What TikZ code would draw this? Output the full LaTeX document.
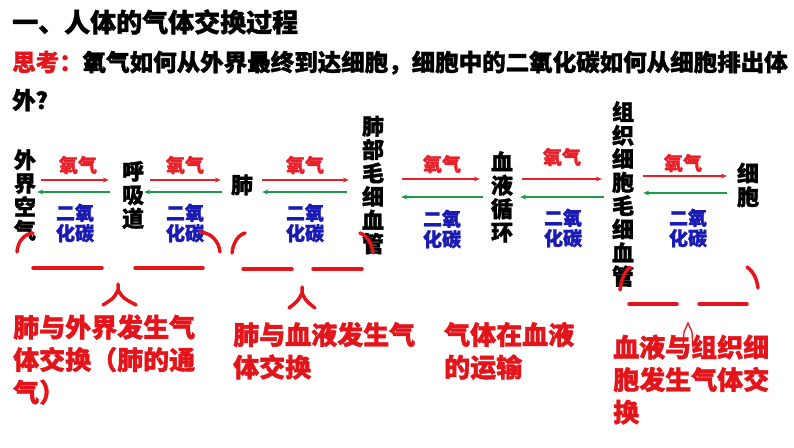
\documentclass[tikz,border=0pt]{standalone}
\usepackage{fontspec}
\setmainfont{Noto Sans CJK SC}[BoldFeatures={FakeBold=1.5}]
\usepackage{tikz}
\usetikzlibrary{arrows.meta}
\definecolor{oRed}{HTML}{E8202A}
\definecolor{cGreen}{HTML}{1E9A4B}
\definecolor{cBlue}{HTML}{1A1AB4}
\definecolor{nRed}{HTML}{E4141B}

\begin{document}
\begin{tikzpicture}[x=1pt, y=-1pt,
      >={Stealth[length=6pt, width=5pt]},
      organ/.style={align=center, inner sep=0pt, font=\fontsize{22}{23.5}\selectfont\bfseries},
      oxy/.style={->, draw=oRed, line width=1.2pt},
      cdo/.style={->, draw=cGreen, line width=1.2pt},
      oxlbl/.style={inner sep=0pt, text=oRed, font=\fontsize{19}{20.5}\selectfont\bfseries},
      colbl/.style={inner sep=0pt, align=center, text=cBlue, font=\fontsize{19}{20.5}\selectfont\bfseries},
      note/.style={align=left, inner sep=0pt, anchor=base west, text=nRed, font=\fontsize{26}{32.5}\selectfont\bfseries},
      brace/.style={draw=nRed, line width=3.5pt, line cap=round}]
    \useasboundingbox (0,0) rectangle (794,447);
    \node[anchor=base west, inner sep=0pt, font=\fontsize{26}{30}\selectfont\bfseries] (title) at (12,32) {一、人体的气体交换过程};
    \node[anchor=base west, inner sep=0pt, align=left, font=\fontsize{23.5}{38}\selectfont\bfseries] (question) at (12,109)
      {\textcolor{nRed}{思考：}氧气如何从外界最终到达细胞，细胞中的二氧化碳如何从细胞排出体\\外？};
    \node[organ] (air)   at (25,195)  {外\\界\\空\\气};
    \node[organ] (tract) at (133,195) {呼\\吸\\道};
    \node[organ] (lung)  at (242,185) {肺};
    \node[organ] (lcap)  at (373,185) {肺\\部\\毛\\细\\血\\管};
    \node[organ] (blood) at (502,197) {血\\液\\循\\环};
    \node[organ] (tcap)  at (623,194) {组\\织\\细\\胞\\毛\\细\\血\\管};
    \node[organ] (cell)  at (748,185) {细\\胞};
    \foreach \a/\b/\yo/\yc/\s/\t/\u/\v in {air/tract/180/192/5/13/12/1, tract/lung/180/192/6/10/9/0,
        lung/lcap/180/192/9/13/15/9, lcap/blood/179/197/18/11/8/17,
        blood/tcap/179/197/9/10/8/7, tcap/cell/176/193/9/10/10/9} {
      \draw[oxy, shorten <=\s pt, shorten >=\t pt] (\a.east |- 0,\yo) -- (\b.west |- 0,\yo);
      \draw[cdo, shorten <=\u pt, shorten >=\v pt] (\b.west |- 0,\yc) -- (\a.east |- 0,\yc);
    }
    \foreach \x/\y [count=\i] in {78/165, 185/165, 305/165, 442/164, 562/157, 683/163}
      \node[oxlbl] (ox\i) at (\x,\y) {氧气};
    \foreach \x/\y [count=\i] in {75/223, 185/223, 305/223, 442/229, 563/228, 688/228}
      \node[colbl] (co\i) at (\x,\y) {二氧\\化碳};
    \draw[brace] (17,252) .. controls (18,240) and (25,234) .. (33,233);
    \draw[brace] (200,232) .. controls (212,233) and (219,242) .. (220,252);
    \draw[brace] (232,253) .. controls (233,243) and (238,235) .. (245,233);
    \draw[brace] (360,233) .. controls (368,236) and (372,244) .. (373,253);
    \draw[brace] (620,290) .. controls (621,280) and (625,271) .. (630,267);
    \draw[brace] (747,267) .. controls (753,271) and (757,279) .. (758,288);
    \draw[brace] (33,268) -- (102,268) (135,268) -- (203,268);
    \draw[brace] (243,269) -- (292,269) (313,269) -- (362,269);
    \draw[brace] (629,304) -- (677,304) (699,304) -- (747,304);
    \draw[brace, line width=3.5pt] (118,284) -- (118,290) .. controls (114,298) .. (103,305)
      (118,290) .. controls (123,298) .. (136,305);
    \draw[brace, line width=3.5pt] (302,287) -- (302,293) .. controls (298,301) .. (289,308)
      (302,293) .. controls (306,301) .. (315,308);
    \draw[brace, line width=1.3pt] (683,348) -- (684,332) -- (688,323) -- (692,332) -- (693,348);
    \node[note] (ventil) at (13,402)  {肺与外界发生气\\体交换（肺的通\\气）};
    \node[note] (alveo)  at (233,377) {肺与血液发生气\\体交换};
    \node[note] (trans)  at (444,377) {气体在血液\\的运输};
    \node[note] (tissue) at (613,422) {血液与组织细\\胞发生气体交\\换};
  \end{tikzpicture}
\end{document}
